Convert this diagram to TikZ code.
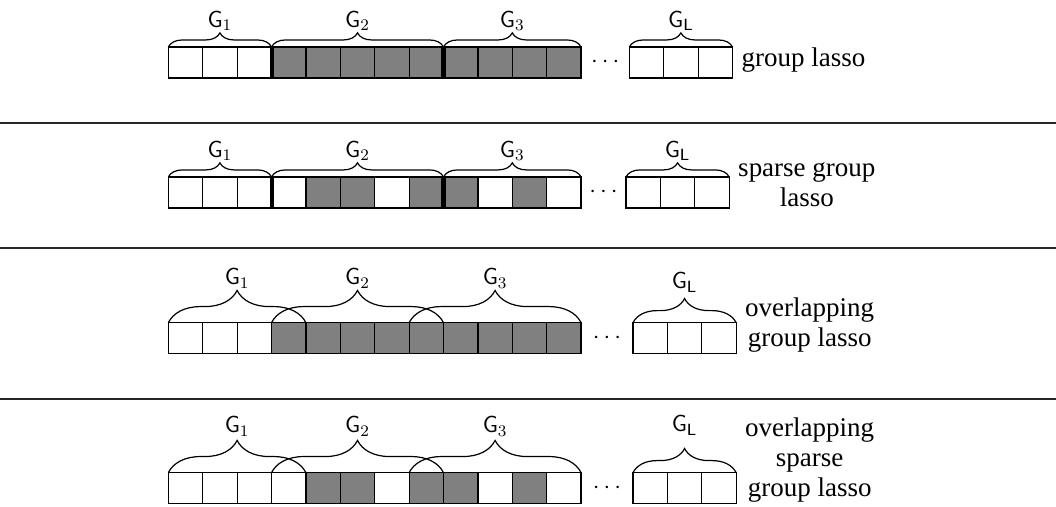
\documentclass[tikz,border=0pt]{standalone}
\usepackage{fontspec}
\setmainfont{Liberation Serif}
\usetikzlibrary{calc, positioning, decorations.pathreplacing}

\begin{document}
\begin{tikzpicture}[
    cell/.style={draw, line width=0.6pt, anchor=north west, minimum width=0.6cm, minimum height=0.54cm, inner sep=0pt, outer sep=0pt},
    sep/.style={line width=0.7pt, black!85},
    cut/.style={line width=2pt},
    grp/.style={decorate, decoration={brace, amplitude=7pt}, line width=0.6pt},
    ovl/.style={decorate, decoration={brace, amplitude=16pt}, line width=0.6pt},
    ovlL/.style={decorate, decoration={brace, amplitude=12pt}, line width=0.6pt},
    glabel/.style={midway, inner sep=0.8pt, font=\fontsize{11.5}{13}\selectfont},
    dots/.style={inner sep=0pt, font=\fontsize{12}{14}\selectfont},
    desc/.style={align=center, inner sep=4.3pt, font=\fontsize{13.4}{14.9}\selectfont}
  ]
  \useasboundingbox (0,0) rectangle (18.42,-8.8435);

  % separators
  \draw[sep] (0,-2.145) -- (18.42,-2.145);
  \draw[sep] (0,-4.326) -- (18.42,-4.326);
  \draw[sep] (0,-6.96) -- (18.42,-6.96);

  % group lasso
  \foreach \f [count=\i] in {white,white,white,gray,gray,gray,gray,gray,gray,gray,gray,gray}
    \node[cell, fill=\f] (a\i) at ({2.936+0.6*(\i-1)},-0.820) {};
  \foreach \i in {1,2,3}
    \node[cell] (aL\i) at ({10.977+0.6*(\i-1)},-0.820) {};
  \node[dots] (adots) at ($(a12.east)!0.5!(aL1.west)$) {$\cdots$};
  \draw[cut] (a3.north east) -- (a3.south east);
  \draw[cut] (a8.north east) -- (a8.south east);
  \draw[grp] (a1.north west) -- (a3.north east) node[glabel, above=7pt] {$\mathsf{G}_1$};
  \draw[grp] (a4.north west) -- (a8.north east) node[glabel, above=7pt] {$\mathsf{G}_2$};
  \draw[grp] (a9.north west) -- (a12.north east) node[glabel, above=7pt] {$\mathsf{G}_3$};
  \draw[grp] (aL1.north west) -- (aL3.north east) node[glabel, above=7pt] {$\mathsf{G}_\mathsf{L}$};
  \node[desc, right=0pt of aL3, yshift=0.05cm] (atext) {group lasso};

  % sparse group lasso
  \foreach \f [count=\i] in {white,white,white,white,gray,gray,white,gray,gray,white,gray,white}
    \node[cell, fill=\f] (b\i) at ({2.936+0.6*(\i-1)},-3.087) {};
  \foreach \i in {1,2,3}
    \node[cell] (bL\i) at ({10.919+0.6*(\i-1)},-3.087) {};
  \node[dots] (bdots) at ($(b12.east)!0.5!(bL1.west)$) {$\cdots$};
  \draw[cut] (b3.north east) -- (b3.south east);
  \draw[cut] (b8.north east) -- (b8.south east);
  \draw[grp] (b1.north west) -- (b3.north east) node[glabel, above=7pt] {$\mathsf{G}_1$};
  \draw[grp] (b4.north west) -- (b8.north east) node[glabel, above=7pt] {$\mathsf{G}_2$};
  \draw[grp] (b9.north west) -- (b12.north east) node[glabel, above=7pt] {$\mathsf{G}_3$};
  \draw[grp] (bL1.north west) -- (bL3.north east) node[glabel, above=7pt] {$\mathsf{G}_\mathsf{L}$};
  \node[desc, right=0pt of bL3, yshift=0.14cm] (btext) {sparse group\\lasso};

  % overlapping group lasso
  \foreach \f [count=\i] in {white,white,white,gray,gray,gray,gray,gray,gray,gray,gray,gray}
    \node[cell, fill=\f] (c\i) at ({2.936+0.6*(\i-1)},-5.629) {};
  \foreach \i in {1,2,3}
    \node[cell] (cL\i) at ({11.041+0.6*(\i-1)},-5.629) {};
  \node[dots] (cdots) at ($(c12.east)!0.5!(cL1.west)$) {$\cdots$};
  \draw[ovl] (c1.north west) -- (c4.north east) node[glabel, above=16pt] {$\mathsf{G}_1$};
  \draw[ovl] (c4.north west) -- (c8.north east) node[glabel, above=16pt] {$\mathsf{G}_2$};
  \draw[ovl] (c8.north west) -- (c12.north east) node[glabel, above=16pt] {$\mathsf{G}_3$};
  \draw[ovlL] (cL1.north west) -- (cL3.north east) node[glabel, above=14pt] {$\mathsf{G}_\mathsf{L}$};
  \node[desc, right=0pt of cL3, yshift=0.23cm] (ctext) {overlapping\\group lasso};

  % overlapping sparse group lasso
  \foreach \f [count=\i] in {white,white,white,white,gray,gray,white,gray,gray,white,gray,white}
    \node[cell, fill=\f] (d\i) at ({2.936+0.6*(\i-1)},-8.245) {};
  \foreach \i in {1,2,3}
    \node[cell] (dL\i) at ({11.041+0.6*(\i-1)},-8.245) {};
  \node[dots] (ddots) at ($(d12.east)!0.5!(dL1.west)$) {$\cdots$};
  \draw[ovl] (d1.north west) -- (d4.north east) node[glabel, above=17pt] {$\mathsf{G}_1$};
  \draw[ovl] (d4.north west) -- (d8.north east) node[glabel, above=17pt] {$\mathsf{G}_2$};
  \draw[ovl] (d8.north west) -- (d12.north east) node[glabel, above=17pt] {$\mathsf{G}_3$};
  \draw[ovlL] (dL1.north west) -- (dL3.north east) node[glabel, above=17.5pt] {$\mathsf{G}_\mathsf{L}$};
  \node[desc, right=0pt of dL3, yshift=0.49cm] (dtext) {overlapping\\sparse\\group lasso};
\end{tikzpicture}
\end{document}
